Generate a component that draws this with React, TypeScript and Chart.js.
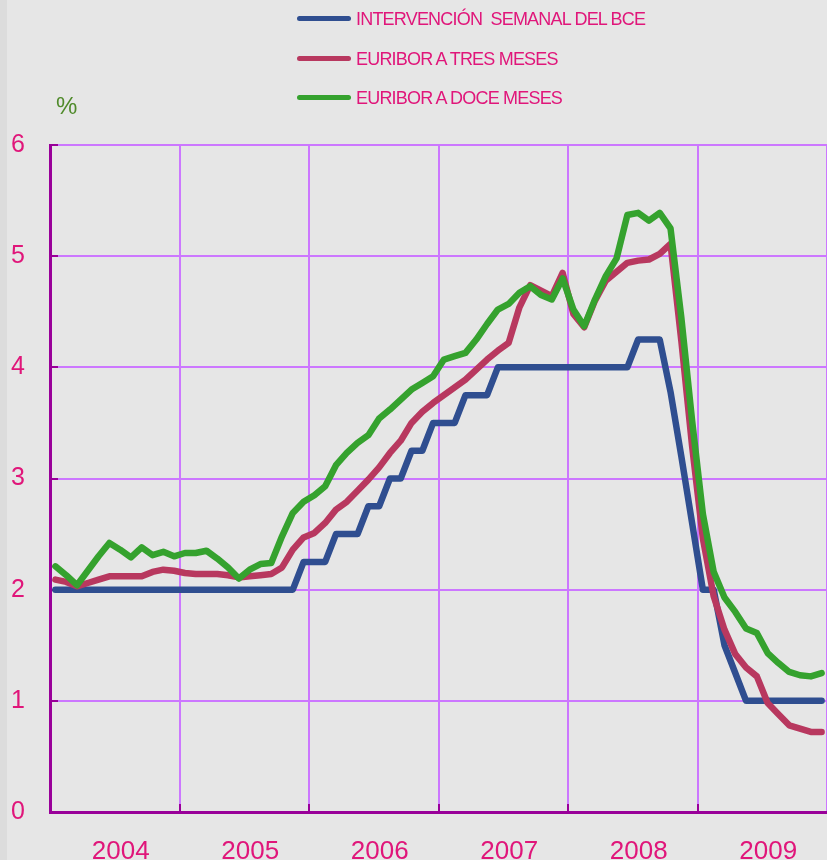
import React, { useEffect, useRef } from 'react';
import { Chart, registerables } from 'chart.js';

Chart.register(...registerables);

// ---- Data (monthly, Jan 2004 – Dec 2009) ----
const YEARS = ['2004', '2005', '2006', '2007', '2008', '2009'];

const SERIES_NAMES = [
  'INTERVENCIÓN  SEMANAL DEL BCE',
  'EURIBOR A TRES MESES',
  'EURIBOR A DOCE MESES',
];

const ECB_RATE = [
  2.0, 2.0, 2.0, 2.0, 2.0, 2.0, 2.0, 2.0, 2.0, 2.0, 2.0, 2.0,
  2.0, 2.0, 2.0, 2.0, 2.0, 2.0, 2.0, 2.0, 2.0, 2.0, 2.0, 2.25,
  2.25, 2.25, 2.5, 2.5, 2.5, 2.75, 2.75, 3.0, 3.0, 3.25, 3.25, 3.5,
  3.5, 3.5, 3.75, 3.75, 3.75, 4.0, 4.0, 4.0, 4.0, 4.0, 4.0, 4.0,
  4.0, 4.0, 4.0, 4.0, 4.0, 4.0, 4.25, 4.25, 4.25, 3.78, 3.2, 2.6,
  2.0, 2.0, 1.5, 1.25, 1.0, 1.0, 1.0, 1.0, 1.0, 1.0, 1.0, 1.0,
];

const EURIBOR_3M = [
  2.09, 2.07, 2.03, 2.06, 2.09, 2.12, 2.12, 2.12, 2.12, 2.16, 2.18, 2.17,
  2.15, 2.14, 2.14, 2.14, 2.13, 2.11, 2.12, 2.13, 2.14, 2.20, 2.36, 2.47,
  2.51, 2.60, 2.72, 2.79, 2.89, 2.99, 3.10, 3.23, 3.34, 3.50, 3.60, 3.68,
  3.75, 3.82, 3.89, 3.98, 4.07, 4.15, 4.22, 4.54, 4.74, 4.69, 4.64, 4.85,
  4.48, 4.36, 4.60, 4.78, 4.86, 4.94, 4.96, 4.97, 5.02, 5.11, 4.24, 3.29,
  2.46, 1.94, 1.64, 1.42, 1.30, 1.22, 0.98, 0.88, 0.78, 0.75, 0.72, 0.72,
];

const EURIBOR_12M = [
  2.21, 2.13, 2.04, 2.17, 2.30, 2.42, 2.36, 2.29, 2.38, 2.31, 2.34, 2.30,
  2.33, 2.33, 2.35, 2.28, 2.20, 2.10, 2.18, 2.23, 2.24, 2.48, 2.69, 2.79,
  2.85, 2.93, 3.12, 3.23, 3.32, 3.39, 3.54, 3.62, 3.71, 3.80, 3.86, 3.92,
  4.07, 4.10, 4.13, 4.25, 4.39, 4.52, 4.57, 4.67, 4.73, 4.65, 4.61, 4.80,
  4.52, 4.37, 4.61, 4.82, 4.98, 5.37, 5.39, 5.32, 5.39, 5.25, 4.45, 3.52,
  2.68, 2.16, 1.93, 1.80, 1.65, 1.61, 1.43, 1.34, 1.26, 1.23, 1.22, 1.25,
];

// ---- Styles ----
const COLORS = ['#2f4e90', '#b8385f', '#35a22e'];
const BG = '#e6e6e6';
const GRID = '#cc77ff';
const AXIS = '#990099';
const LABEL = '#e0167a';
const PCT = '#4f8a2a';
const FONT = '"Liberation Sans", Arial, Helvetica, sans-serif';

const MONTHS_PER_YEAR = 12;
const TOTAL_MONTHS = YEARS.length * MONTHS_PER_YEAR;

const toPoints = (arr: number[]) => arr.map((v, i) => ({ x: i + 0.5, y: v }));

const innerTicks = {
  id: 'innerTicks',
  beforeDatasetsDraw(chart: any) {
    const { ctx, chartArea, scales } = chart;
    ctx.save();
    ctx.strokeStyle = AXIS;
    ctx.lineWidth = 2;
    const xs = scales.x;
    xs.ticks.forEach((t: any) => {
      if (t.value % MONTHS_PER_YEAR === 0 && t.value > 0 && t.value < TOTAL_MONTHS) {
        const px = Math.round(xs.getPixelForValue(t.value));
        ctx.beginPath();
        ctx.moveTo(px, chartArea.bottom);
        ctx.lineTo(px, chartArea.bottom - 8);
        ctx.stroke();
      }
    });
    const ys = scales.y;
    ys.ticks.forEach((t: any) => {
      if (t.value > 0) {
        const py = Math.round(ys.getPixelForValue(t.value));
        ctx.beginPath();
        ctx.moveTo(chartArea.left, py);
        ctx.lineTo(chartArea.left + 8, py);
        ctx.stroke();
      }
    });
    ctx.restore();
  },
};

export default function App() {
  const ref = useRef<HTMLCanvasElement | null>(null);

  useEffect(() => {
    if (!ref.current) return;
    const seriesData = [ECB_RATE, EURIBOR_3M, EURIBOR_12M];
    const chart = new Chart(ref.current, {
      type: 'line',
      data: {
        datasets: seriesData.map((d, i) => ({
          label: SERIES_NAMES[i],
          data: toPoints(d),
          borderColor: COLORS[i],
          backgroundColor: COLORS[i],
          borderWidth: 6.5,
          pointRadius: 0,
          tension: 0,
          borderJoinStyle: 'round',
          borderCapStyle: 'round',
          order: 3 - i,
        })),
      },
      options: {
        responsive: false,
        animation: false,
        devicePixelRatio: 1,
        layout: { padding: { top: 145, left: 0, right: 0, bottom: 0 } },
        plugins: { legend: { display: false }, tooltip: { enabled: false } },
        scales: {
          x: {
            type: 'linear',
            min: 0,
            max: TOTAL_MONTHS,
            afterBuildTicks: (s: any) => {
              const t = [];
              for (let v = 0; v <= TOTAL_MONTHS; v += MONTHS_PER_YEAR / 2) t.push({ value: v });
              s.ticks = t;
            },
            afterFit: (s: any) => {
              s.height = 48;
              s.paddingLeft = 0;
              s.paddingRight = 0;
            },
            grid: {
              color: (c: any) =>
                c.tick && c.tick.value % MONTHS_PER_YEAR === 0 ? GRID : 'rgba(0,0,0,0)',
              lineWidth: 2,
              drawTicks: false,
            },
            border: { color: AXIS, width: 3 },
            ticks: {
              autoSkip: false,
              maxRotation: 0,
              padding: 24,
              labelOffset: 6,
              color: LABEL,
              font: { family: FONT, size: 26 },
              callback: (v: any) => {
                const n = Number(v);
                if (n % MONTHS_PER_YEAR === MONTHS_PER_YEAR / 2) {
                  return YEARS[Math.floor(n / MONTHS_PER_YEAR)];
                }
                return '';
              },
            },
          },
          y: {
            min: 0,
            max: 6,
            afterFit: (s: any) => {
              s.width = 50;
            },
            grid: { color: GRID, lineWidth: 2, drawTicks: false },
            border: { color: AXIS, width: 3 },
            ticks: {
              stepSize: 1,
              padding: 25,
              color: LABEL,
              font: { family: FONT, size: 25 },
            },
          },
        },
      },
      plugins: [innerTicks],
    } as any);
    return () => chart.destroy();
  }, []);

  const legendTops = [18, 58, 97];

  return (
    <div
      style={{
        position: 'absolute',
        left: 0,
        top: 0,
        width: 827,
        height: 860,
        background: BG,
        overflow: 'hidden',
      }}
    >
      <div style={{ position: 'absolute', left: 0, top: 0, width: 7, height: 860, background: '#dcdcdc' }} />
      <canvas
        ref={ref}
        width={827}
        height={860}
        style={{ position: 'absolute', left: 0, top: 0, width: 827, height: 860, display: 'block' }}
      />
      {SERIES_NAMES.map((name, i) => (
        <div key={name}>
          <div
            style={{
              position: 'absolute',
              left: 297,
              top: legendTops[i] - 2.5,
              width: 54,
              height: 5,
              borderRadius: 3,
              background: COLORS[i],
            }}
          />
          <div
            style={{
              position: 'absolute',
              left: 356,
              top: legendTops[i] - 11,
              fontFamily: FONT,
              fontSize: 18,
              lineHeight: '24px',
              letterSpacing: -0.8,
              color: LABEL,
              whiteSpace: 'pre',
            }}
          >
            {name}
          </div>
        </div>
      ))}
      <div
        style={{
          position: 'absolute',
          left: 56,
          top: 92,
          fontFamily: FONT,
          fontSize: 24,
          lineHeight: '28px',
          color: PCT,
        }}
      >
        %
      </div>
    </div>
  );
}
